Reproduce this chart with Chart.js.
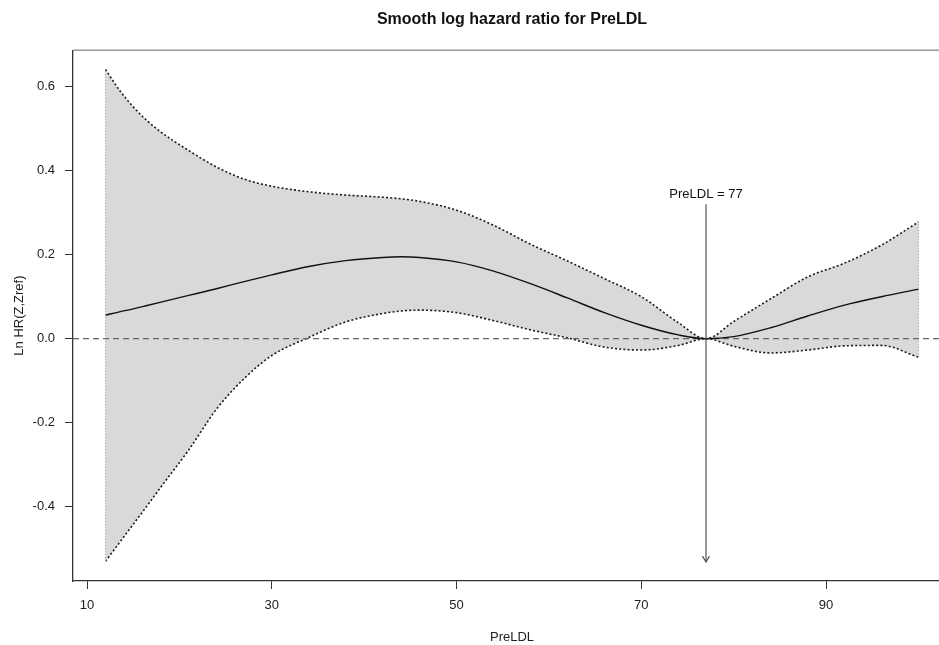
<!DOCTYPE html>
<html>
<head>
<meta charset="utf-8">
<script src="https://cdn.jsdelivr.net/npm/chart.js@4.4.1/dist/chart.umd.min.js"></script>
<style>
  html, body { margin: 0; padding: 0; background: #fff; overflow: hidden; width: 939px; height: 645px; }
  #wrap { position: absolute; left: 0; top: 0; width: 960px; height: 645px; }
</style>
</head>
<body>
<div id="wrap"><canvas id="c" width="960" height="645"></canvas></div>
<script>
// ---- data ----
const preldl  = [12, 13.5, 15, 16.5, 18, 21, 24, 27, 30, 34, 38, 42, 44, 46, 50, 54, 58, 62, 66, 70, 74, 77, 80, 84, 88, 92, 96, 100];
const lnHR    = [0.056, 0.064, 0.071, 0.079, 0.087, 0.103, 0.119, 0.136, 0.152, 0.172, 0.186, 0.1935, 0.195, 0.1935, 0.183, 0.161, 0.131, 0.097, 0.062, 0.032, 0.009, 0.000, 0.005, 0.026, 0.054, 0.080, 0.100, 0.118];
const upperCI = [0.641, 0.592, 0.552, 0.519, 0.492, 0.448, 0.409, 0.380, 0.363, 0.350, 0.342, 0.337, 0.333, 0.327, 0.306, 0.270, 0.225, 0.185, 0.143, 0.100, 0.038, 0.000, 0.041, 0.095, 0.147, 0.180, 0.223, 0.278];
const lowerCI = [-0.530, -0.486, -0.442, -0.398, -0.353, -0.265, -0.168, -0.095, -0.040, 0.003, 0.040, 0.060, 0.066, 0.068, 0.062, 0.043, 0.021, 0.002, -0.020, -0.027, -0.016, 0.000, -0.018, -0.034, -0.027, -0.017, -0.016, -0.044];
const xTicks = [10, 30, 50, 70, 90];
const yTicks = [-0.4, -0.2, 0.0, 0.2, 0.4, 0.6];
const xRange = [8.48, 103.52];
const yRange = [-0.577, 0.687];
const refValue = 77;
const refLabel = 'PreLDL = 77';
const arrowTop = 0.32;
const arrowBottom = -0.532;

const pts = (ys) => preldl.map((x, i) => ({ x: x, y: ys[i] }));
const FONT = "'Liberation Sans', Arial, Helvetica, sans-serif";

const boxPlugin = {
  id: 'boxAndArrow',
  beforeDatasetsDraw(chart) {
    const { ctx, chartArea: a } = chart;
    ctx.save();
    ctx.strokeStyle = '#9a9a9a';
    ctx.lineWidth = 1.5;
    ctx.beginPath();
    ctx.moveTo(a.left, a.top);
    ctx.lineTo(a.right, a.top);
    ctx.lineTo(a.right, a.bottom);
    ctx.stroke();
    ctx.restore();
  },
  afterDatasetsDraw(chart) {
    const { ctx } = chart;
    const xs = chart.scales.x, ys = chart.scales.y;
    const px = xs.getPixelForValue(refValue);
    const pyTop = ys.getPixelForValue(arrowTop);
    const pyBot = ys.getPixelForValue(arrowBottom);
    ctx.save();
    ctx.strokeStyle = '#555';
    ctx.lineWidth = 1.2;
    ctx.beginPath();
    ctx.moveTo(px - 3.5, pyBot - 6);
    ctx.lineTo(px, pyBot);
    ctx.lineTo(px + 3.5, pyBot - 6);
    ctx.stroke();
    ctx.fillStyle = '#111';
    ctx.font = '13px ' + FONT;
    ctx.textAlign = 'center';
    ctx.textBaseline = 'middle';
    ctx.fillText(refLabel, px, pyTop - 10);
    ctx.restore();
  }
};

new Chart(document.getElementById('c'), {
  type: 'line',
  data: {
    datasets: [
      { // upper CI with band fill
        data: pts(upperCI), borderColor: '#1a1a1a', borderWidth: 1.6, borderDash: [2, 2.2],
        backgroundColor: '#d9d9d9', fill: '+1', cubicInterpolationMode: 'monotone', order: 10
      },
      { // lower CI
        data: pts(lowerCI), borderColor: '#1a1a1a', borderWidth: 1.6, borderDash: [2, 2.2],
        fill: false, cubicInterpolationMode: 'monotone', order: 5
      },
      { // estimate
        data: pts(lnHR), borderColor: '#111', borderWidth: 1.4,
        fill: false, cubicInterpolationMode: 'monotone', order: 1
      },
      { // zero reference line
        data: [{ x: xRange[0], y: 0 }, { x: xRange[1], y: 0 }], borderColor: '#666', borderWidth: 1.2,
        borderDash: [6, 4], fill: false, order: 3
      },
      { // left band edge
        data: [{ x: preldl[0], y: lowerCI[0] }, { x: preldl[0], y: upperCI[0] }], borderColor: '#aaa',
        borderWidth: 1.2, borderDash: [1.5, 1.5], fill: false, order: 4
      },
      { // right band edge
        data: [{ x: preldl[preldl.length - 1], y: lowerCI[lowerCI.length - 1] }, { x: preldl[preldl.length - 1], y: upperCI[upperCI.length - 1] }],
        borderColor: '#aaa', borderWidth: 1.2, borderDash: [1.5, 1.5], fill: false, order: 4
      },
      { // reference arrow shaft
        data: [{ x: refValue, y: arrowTop }, { x: refValue, y: arrowBottom }], borderColor: '#555',
        borderWidth: 1.2, fill: false, order: 0
      }
    ]
  },
  options: {
    responsive: false,
    animation: false,
    events: [],
    layout: { padding: { left: 0, right: 9, top: 0, bottom: 0 } },
    elements: { point: { radius: 0 } },
    plugins: {
      legend: { display: false },
      tooltip: { enabled: false },
      title: {
        display: true, text: 'Smooth log hazard ratio for PreLDL', fullSize: false,
        color: '#111', font: { family: FONT, size: 16, weight: 'bold' },
        padding: { top: 10, bottom: 21 }
      }
    },
    scales: {
      x: {
        type: 'linear', min: xRange[0], max: xRange[1],
        afterBuildTicks: (s) => { s.ticks = xTicks.map(v => ({ value: v })); },
        afterFit: (s) => { s.height = 64; },
        ticks: { color: '#222', font: { family: FONT, size: 13 }, padding: 9, autoSkip: false, maxRotation: 0,
                 callback: (v) => String(v) },
        grid: { drawOnChartArea: false, drawTicks: true, tickLength: 8, color: '#333', lineWidth: 1 },
        border: { display: true, color: '#333', width: 1.3 },
        title: { display: true, text: 'PreLDL', color: '#222', font: { family: FONT, size: 13 }, padding: { top: 0, bottom: 0 } }
      },
      y: {
        type: 'linear', min: yRange[0], max: yRange[1],
        afterBuildTicks: (s) => { s.ticks = yTicks.map(v => ({ value: v })); },
        afterFit: (s) => { s.width = 73; },
        ticks: { color: '#222', font: { family: FONT, size: 13 }, padding: 10, autoSkip: false,
                 callback: (v) => v.toFixed(1) },
        grid: { drawOnChartArea: false, drawTicks: true, tickLength: 8, color: '#333', lineWidth: 1 },
        border: { display: true, color: '#333', width: 1.3 },
        title: { display: true, text: 'Ln HR(Z,Zref)', color: '#222', font: { family: FONT, size: 13 }, padding: { top: 12, bottom: 0 } }
      }
    }
  },
  plugins: [boxPlugin]
});
</script>
</body>
</html>
